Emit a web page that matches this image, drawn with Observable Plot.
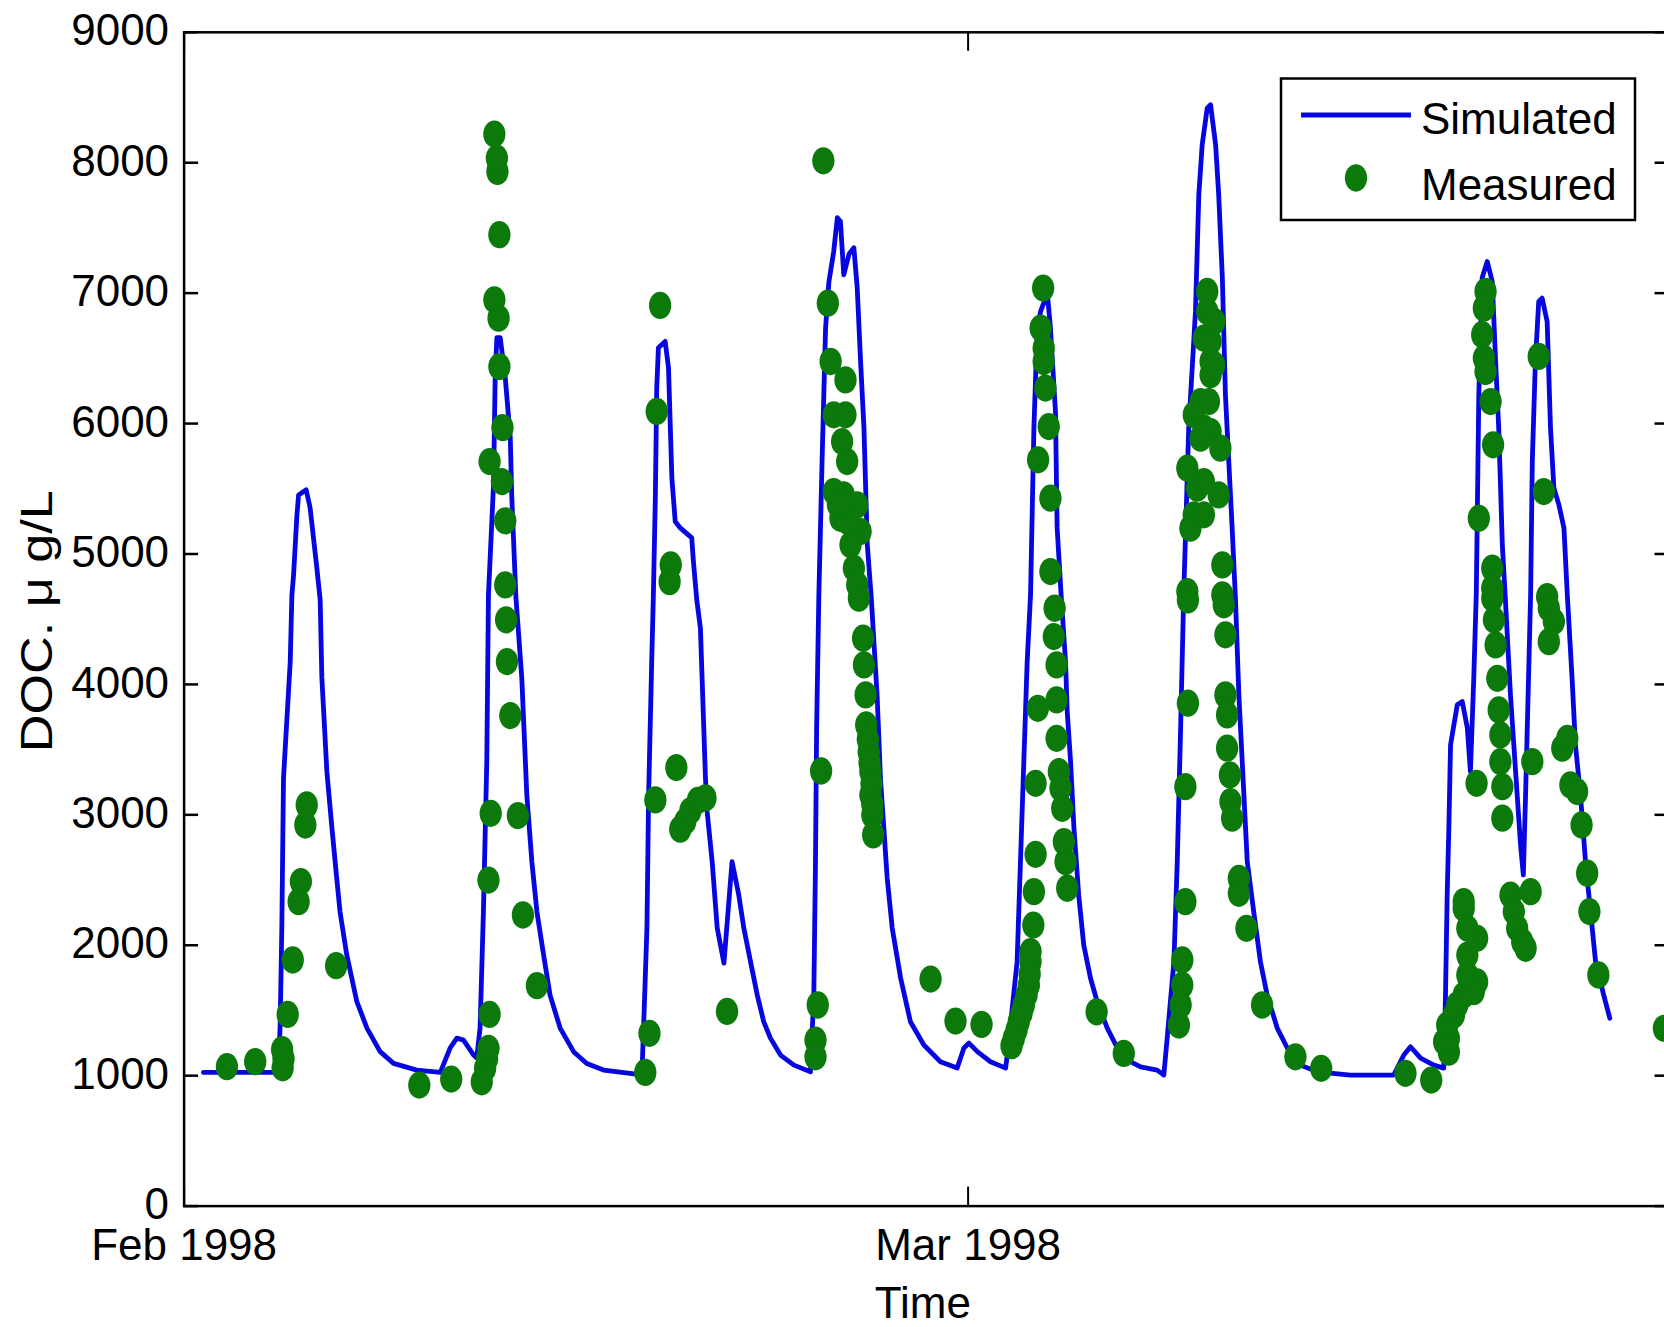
<!DOCTYPE html>
<html>
<head>
<meta charset="utf-8">
<script src="https://cdn.jsdelivr.net/npm/d3@7"></script>
<script src="https://cdn.jsdelivr.net/npm/@observablehq/plot@0.6"></script>
<style>
html, body { margin: 0; padding: 0; background: #fff; overflow: hidden; }
#chart svg { display: block; }
</style>
</head>
<body>
<div id="chart"></div>
<script>
// ---- data: days after 1 Feb 1998 00:00 and DOC (µg/L) ----
const simDay = [0.69,3.37,3.43,3.49,3.55,3.79,3.85,3.91,4.03,4.09,4.36,4.50,4.62,4.74,4.86,4.92,5.10,5.28,5.45,5.57,5.81,6.17,6.53,7.00,7.48,8.31,9.15,9.50,9.74,9.98,10.34,10.45,10.57,10.69,10.81,10.87,11.05,11.11,11.17,11.29,11.47,11.65,11.70,11.85,12.06,12.24,12.42,12.60,12.84,13.07,13.43,13.91,14.38,14.98,15.93,16.35,16.41,16.53,16.59,16.70,16.76,16.83,16.88,16.94,17.18,17.30,17.42,17.54,17.72,18.13,18.19,18.31,18.44,18.62,18.68,18.86,19.04,19.28,19.57,19.81,19.99,20.23,20.47,20.70,20.94,21.30,21.78,22.37,22.49,22.55,22.59,22.67,22.79,22.91,23.03,23.20,23.33,23.44,23.56,23.75,23.92,24.04,24.16,24.28,24.40,24.54,24.75,24.87,24.99,25.11,25.29,25.59,25.94,26.42,27.01,27.61,27.85,28.03,28.33,28.80,29.34,29.40,29.75,29.87,29.99,30.11,30.23,30.35,30.47,30.59,30.83,30.94,31.12,31.18,31.33,31.48,31.54,31.66,31.78,31.95,32.13,32.37,32.61,32.97,33.33,33.80,34.16,34.75,34.99,35.11,35.35,35.47,35.59,35.70,35.88,36.12,36.24,36.36,36.54,36.66,36.84,36.95,37.08,37.19,37.31,37.43,37.55,37.67,37.79,37.97,38.20,38.44,38.68,39.04,39.40,39.87,40.47,41.66,43.20,43.56,43.80,44.16,44.63,44.99,45.05,45.11,45.17,45.23,45.47,45.65,45.83,45.94,46.06,46.15,46.24,46.36,46.54,46.72,46.84,46.95,47.08,47.19,47.37,47.49,47.61,47.73,47.83,47.91,48.03,48.09,48.15,48.26,48.38,48.50,48.68,48.80,48.92,49.10,49.28,49.40,49.57,49.69,49.87,50.05,50.23,50.41,50.70,50.92];
const simDoc = [1025,1025,1388,2132,3282,4172,4686,4840,5300,5453,5492,5354,5124,4894,4648,4050,3329,2899,2516,2255,1925,1567,1365,1184,1094,1043,1025,1212,1288,1273,1158,1135,1365,2258,3408,4686,5530,6351,6658,6658,6351,5890,5453,4670,4050,3152,2641,2258,1925,1618,1365,1184,1094,1043,1018,1007,1365,2132,3152,4175,4686,5430,6274,6581,6630,6428,5584,5249,5200,5124,4942,4648,4430,3282,3024,2641,2132,1863,2641,2385,2132,1874,1618,1414,1288,1158,1081,1030,1618,2641,3666,4686,5760,6734,7089,7319,7578,7550,7141,7300,7348,7041,6476,5967,5070,4670,3919,3282,2899,2516,2132,1749,1414,1235,1107,1058,1212,1250,1184,1107,1058,1158,1874,2641,3408,4175,4686,5967,6734,6860,7000,6734,6093,5200,4660,4175,3792,3408,2899,2385,2002,1749,1567,1365,1212,1107,1068,1043,1005,1288,1874,2641,3666,4686,5967,6860,7754,8138,8419,8445,8138,7754,7118,6220,5709,5200,4648,3919,3408,2641,2258,1874,1618,1365,1212,1081,1030,1005,1005,1158,1222,1135,1081,1058,1618,2385,2899,3536,3843,3868,3666,3331,4050,4700,6220,7118,7243,7089,6476,5967,5070,4648,3919,3536,3152,2769,2539,3152,4175,4686,5709,6476,6936,6962,6783,5967,5507,5377,5200,4686,4050,3536,3152,2641,2258,1874,1618,1440];

const measDay = [1.53,2.54,3.50,3.55,3.52,3.70,3.88,4.17,4.09,4.38,4.33,5.43,8.40,9.54,10.63,10.75,10.82,10.87,10.91,10.87,10.95,11.92,12.10,12.60,11.65,11.53,11.50,11.47,11.47,11.35,10.91,11.37,11.26,11.23,11.08,11.26,11.19,11.17,11.08,
 17.00,16.88,17.38,17.34,17.58,16.83,17.72,17.90,18.08,18.35,18.62,16.62,16.47,19.39,
 22.83,22.99,23.09,23.62,23.20,23.62,23.50,23.68,23.20,23.56,24.04,23.44,24.16,23.80,23.92,24.04,23.70,23.35,24.10,24.25,24.28,24.34,24.36,24.45,24.51,24.51,24.58,24.61,24.42,24.48,24.55,24.58,22.75,22.63,22.55,22.55,26.66,27.55,28.48,
 29.63,29.81,29.99,30.17,30.23,30.23,30.33,30.35,30.41,30.41,30.49,29.55,29.73,29.91,30.09,30.20,31.16,31.16,31.24,31.30,31.36,31.42,31.48,31.54,31.09,31.06,31.16,32.59,33.56,30.68,30.59,30.70,30.70,30.76,30.88,30.50,30.94,30.94,
 36.54,36.54,36.42,36.66,36.66,36.30,36.06,36.42,36.30,35.83,36.18,36.06,35.94,35.83,36.79,36.66,36.79,36.60,36.66,37.01,36.42,36.95,36.42,37.08,37.08,37.13,37.19,37.19,37.25,37.25,37.35,37.37,37.43,37.67,37.67,37.94,38.50,39.69,40.61,43.62,44.54,35.85,35.85,35.76,35.76,35.65,35.65,35.59,35.53,
 45.00,45.17,45.17,45.11,45.35,45.47,45.70,46.06,46.18,45.83,45.83,46.18,45.83,45.70,45.70,46.16,47.08,47.08,47.01,47.01,46.95,46.90,46.84,46.78,46.72,46.48,46.42,46.36,46.42,46.48,46.66,46.75,46.24,46.72,46.72,47.37,47.49,47.61,47.79,47.91,48.09,48.15,49.22,49.40,49.51,49.75,49.91,50.11,50.19,50.51,52.85,48.38,48.56,48.68,48.74,48.92,48.74];
const measDoc = [1069,1107,1200,1130,1060,1470,1887,2488,2334,3076,2922,1843,928,974,953,1056,1130,1209,1470,2500,3012,2994,2232,1690,3761,4175,4495,4763,5254,5555,5709,5969,6437,6808,6949,7448,7933,8036,8220,
 6906,6093,4916,4788,3362,3114,2890,2950,3030,3110,3130,1325,1025,1493,
 8015,6923,6476,6335,6067,6067,5862,5709,5479,5453,5377,5274,5172,5070,4891,4763,5250,5380,4661,4354,4149,3919,3689,3484,3331,3152,2999,2846,3580,3400,3240,3080,3336,1542,1273,1145,1741,1419,1393,
 1286,1414,1542,1695,1874,1951,2155,2411,2697,3242,3817,1230,1350,1480,1620,1780,3881,3587,3331,3204,3050,2794,2641,2437,4584,4367,4149,1490,1171,7039,6732,6578,6476,6272,5977,5722,5428,4865,
 7013,6860,6655,6476,6374,6169,6067,5965,5888,5658,5505,5300,5198,4712,6783,6629,6450,6169,5939,5811,5555,5453,5300,4916,4686,4610,4380,3919,3766,3511,3306,3101,2974,2513,2398,2130,1542,1145,1056,1018,966,4648,3856,3216,2334,1887,1695,1542,1388,
 1260,1180,1286,1388,1465,1542,1618,1644,1720,1772,1925,2053,2130,2283,2334,3242,2974,3216,3408,3613,3804,4047,4303,4495,4661,7013,6885,6681,6502,6399,6169,5837,5274,4891,4738,2385,2258,2130,2027,1977,2411,3408,3511,3587,3229,3178,2922,2552,2258,1772,1363,6515,5479,4673,4584,4482,4328];

const yTicks = [0,1000,2000,3000,4000,5000,6000,7000,8000,9000];
const xTickDays = [0, 28];
const xTickLabels = ["Feb 1998", "Mar 1998"];
const yLabel = "DOC. \u03bc g/L";
const xLabel = "Time";
const legendLabels = ["Simulated", "Measured"];

// ---- build tables ----
const t0 = Date.UTC(1998, 1, 1);
const toDate = d => new Date(t0 + d * 864e5);
const sim = simDay.map((d, i) => ({t: toDate(d), v: simDoc[i]}));
const meas = measDay.map((d, i) => ({t: toDate(d), v: measDoc[i]}));

// ---- layout ----
const W = 1664, H = 1327;
const fLeft = 183.6, fTop = 31.8, fBottom = 1205.6, fRight = 1669;
const pxPerDay = 28;
const dayEnd = (fRight - fLeft) / pxPerDay;
const frameW = fRight - fLeft, frameH = fBottom - fTop;
const blue = "#0606e0", green = "#0b7a0b";
const font = "'Liberation Sans', Arial, Helvetica, sans-serif";

// slightly tall elliptical marker, like the stretched original
const ellipse = {
  draw(ctx, size) {
    const r = Math.sqrt(size / Math.PI), rx = r * 0.9, ry = r * 1.1, k = 0.5523;
    ctx.moveTo(rx, 0);
    ctx.bezierCurveTo(rx, ry * k, rx * k, ry, 0, ry);
    ctx.bezierCurveTo(-rx * k, ry, -rx, ry * k, -rx, 0);
    ctx.bezierCurveTo(-rx, -ry * k, -rx * k, -ry, 0, -ry);
    ctx.bezierCurveTo(rx * k, -ry, rx, -ry * k, rx, 0);
    ctx.closePath();
  }
};

const chart = Plot.plot({
  width: W, height: H,
  marginLeft: fLeft, marginRight: W - fRight, marginTop: fTop, marginBottom: H - fBottom,
  x: {type: "utc", domain: [toDate(0), toDate(dayEnd)], axis: null},
  y: {domain: [0, 9000], axis: null},
  style: {fontFamily: font, background: "white", color: "black", overflow: "hidden"},
  marks: [
    Plot.line(sim, {x: "t", y: "v", stroke: blue, strokeWidth: 4.8}),
    Plot.dot(meas, {x: "t", y: "v", r: 12.4, symbol: ellipse, fill: green, stroke: "none"}),
    // inward ticks on all four sides
    Plot.tickY(yTicks, {y: d => d, stroke: "black", strokeWidth: 2.5, insetRight: frameW - 14.5}),
    Plot.tickY(yTicks, {y: d => d, stroke: "black", strokeWidth: 2.5, insetLeft: frameW - 14.5}),
    Plot.tickX(xTickDays, {x: d => toDate(d), stroke: "black", strokeWidth: 2, insetTop: frameH - 19}),
    Plot.tickX(xTickDays, {x: d => toDate(d), stroke: "black", strokeWidth: 2, insetBottom: frameH - 19}),
    Plot.frame({stroke: "black", strokeWidth: 2.5}),
    // tick labels
    Plot.text(yTicks, {y: d => d, text: d => String(d), frameAnchor: "left", textAnchor: "end", dx: -15, dy: -1, fontSize: 44, fill: "black"}),
    Plot.text(xTickDays, {x: d => toDate(d), text: (d, i) => xTickLabels[i], frameAnchor: "bottom", textAnchor: "middle", lineAnchor: "top", dy: 23, fontSize: 44, fill: "black"}),
    // axis titles
    Plot.text([xLabel], {text: d => d, frameAnchor: "bottom", textAnchor: "middle", lineAnchor: "top", dy: 81, dx: -4, fontSize: 44, fill: "black"}),
    Plot.text([yLabel], {text: d => d, frameAnchor: "left", textAnchor: "middle", rotate: -90, dx: -146, dy: 2, fontSize: 44, fill: "black"})
  ]
});
document.getElementById("chart").appendChild(chart);

const svg = d3.select(chart);
// widen the rotated axis title to the reference's letter spacing
svg.selectAll("text").filter(function() { return this.textContent === yLabel; })
  .attr("textLength", 262).attr("lengthAdjust", "spacingAndGlyphs");

// ---- legend box ----
const lg = svg.append("g").attr("font-family", font).attr("font-size", 44).attr("text-anchor", "start");
lg.append("rect").attr("x", 1281).attr("y", 78.5).attr("width", 354).attr("height", 141.5)
  .attr("fill", "white").attr("stroke", "black").attr("stroke-width", 2.5);
lg.append("line").attr("x1", 1301).attr("x2", 1411).attr("y1", 115).attr("y2", 115)
  .attr("stroke", blue).attr("stroke-width", 5);
const p = d3.path(); ellipse.draw(p, Math.PI * 12.4 * 12.4);
lg.append("path").attr("d", p.toString()).attr("transform", "translate(1356,178)").attr("fill", green);
lg.append("text").attr("x", 1421).attr("y", 134).attr("fill", "black").text(legendLabels[0]);
lg.append("text").attr("x", 1421).attr("y", 200).attr("fill", "black").text(legendLabels[1]);
</script>
</body>
</html>
